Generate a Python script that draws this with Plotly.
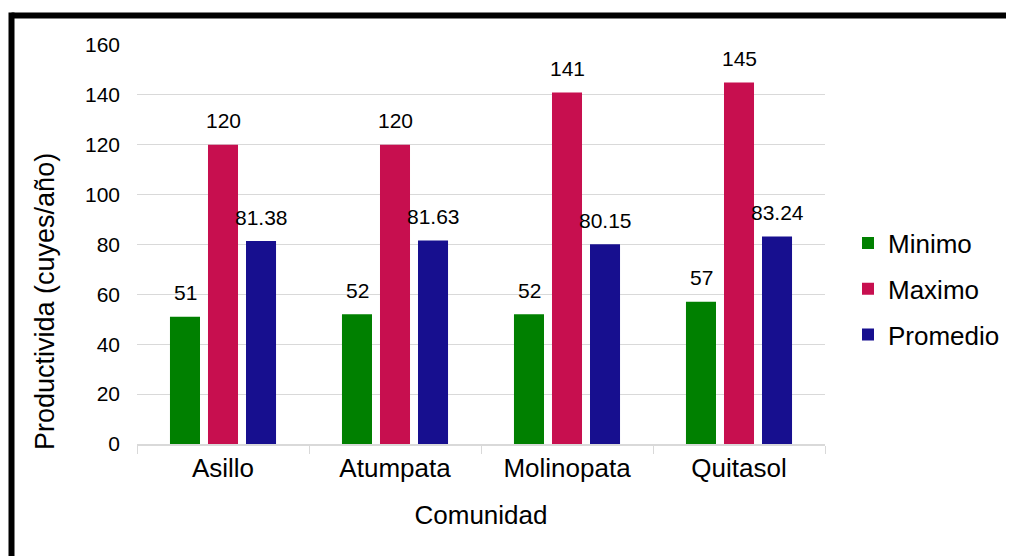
import plotly.graph_objects as go

categories = ["Asillo", "Atumpata", "Molinopata", "Quitasol"]
minimo = [51, 52, 52, 57]
maximo = [120, 120, 141, 145]
promedio = [81.38, 81.63, 80.15, 83.24]
minimo_labels = ["51", "52", "52", "57"]
maximo_labels = ["120", "120", "141", "145"]
promedio_labels = ["81.38", "81.63", "80.15", "83.24"]

series = [
    ("Minimo", minimo, minimo_labels, "#008000", -38),
    ("Maximo", maximo, maximo_labels, "#C70F4F", 0),
    ("Promedio", promedio, promedio_labels, "#170F8F", 38),
]

FONT = "Liberation Sans, Arial, sans-serif"

# page body adds an 8px offset; work in page coordinates and subtract it
OFF = 8
W, H = 1014 - OFF, 556 - OFF
L = 137 - OFF
R = W - (825 - OFF)
T = 45 - OFF
B = H - (444 - OFF)
pw, ph = W - L - R, H - T - B

def px_x(p):
    return (p - OFF - L) / pw

def px_y(p):
    return (H - B - (p - OFF)) / ph

fig = go.Figure()
annotations = []
for i, (name, vals, labels, color, xs) in enumerate(series):
    fig.add_trace(go.Bar(x=categories, y=vals, name=name, marker_color=color,
                         marker_line_width=0, legendgroup=name))
    for c, v, t in zip(categories, vals, labels):
        annotations.append(dict(x=c, y=v, xref="x", yref="y", text=t, showarrow=False,
                                xshift=xs, yshift=24, yanchor="middle",
                                font=dict(family=FONT, size=21, color="#000000")))

annotations.append(dict(x=px_x(45), y=px_y(302), xref="paper", yref="paper",
                        text="Productivida (cuyes/año)", textangle=-90, showarrow=False,
                        xanchor="center", yanchor="middle",
                        font=dict(family=FONT, size=27, color="#000000")))

shapes = [
    dict(type="line", xref="paper", yref="paper", x0=px_x(11.5), x1=px_x(1040),
         y0=px_y(15.5), y1=px_y(15.5), line=dict(color="#000000", width=6)),
    dict(type="line", xref="paper", yref="paper", x0=px_x(11.5), x1=px_x(11.5),
         y0=px_y(12.5), y1=px_y(580), line=dict(color="#000000", width=6)),
]

fig.update_layout(
    width=W, height=H,
    margin=dict(l=L, r=R, t=T, b=B, autoexpand=False),
    paper_bgcolor="white", plot_bgcolor="white",
    barmode="group", bargap=0.337, bargroupgap=0.21,
    font=dict(family=FONT, color="#000000"),
    annotations=annotations,
    shapes=shapes,
    legend=dict(x=px_x(848), y=px_y(289), xanchor="left", yanchor="middle",
                font=dict(family=FONT, size=26, color="#000000"),
                traceorder="grouped", tracegroupgap=9, bgcolor="rgba(0,0,0,0)"),
    xaxis=dict(
        showline=True, linecolor="#d9d9d9", linewidth=1.5,
        ticks="outside", tickson="boundaries", ticklen=8, tickcolor="#d9d9d9",
        tickfont=dict(family=FONT, size=26, color="#000000"),
        title=dict(text="Comunidad", font=dict(family=FONT, size=26, color="#000000"), standoff=24),
        showgrid=False, automargin=False,
    ),
    yaxis=dict(
        range=[0, 160], dtick=20, showgrid=True, gridcolor="#d9d9d9", gridwidth=1,
        zeroline=False, showline=False, ticks="", ticklabelstandoff=16,
        tickfont=dict(family=FONT, size=21, color="#000000"), automargin=False,
    ),
)

fig.write_html("out.html")
